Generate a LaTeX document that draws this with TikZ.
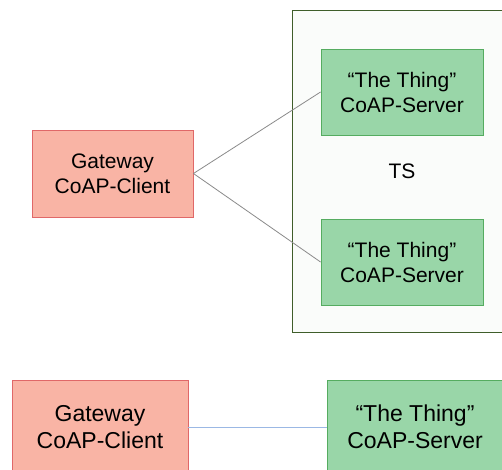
\documentclass[tikz,border=0pt]{standalone}
\usepackage{fontspec}
\setmainfont{Liberation Sans}
\usepackage{xcolor}

\definecolor{clientfill}{HTML}{F9B4A5}
\definecolor{clientdraw}{HTML}{E06868}
\definecolor{serverfill}{HTML}{99D6A8}
\definecolor{serverdraw}{HTML}{55AC60}
\definecolor{groupfill}{HTML}{FAFCFA}
\definecolor{groupdraw}{HTML}{3F5E2A}
\definecolor{linkgray}{HTML}{8A8A8A}
\definecolor{linkblue}{HTML}{9BB8E4}

\begin{document}
\begin{tikzpicture}[x=1pt, y=1pt,
            every node/.style = {align = center, inner sep = 0pt,
                font = \fontsize{21}{25}\selectfont},
            client/.style = {draw = clientdraw, fill = clientfill, line width = 0.9pt},
            server/.style = {draw = serverdraw, fill = serverfill, line width = 0.9pt},
            big/.style = {font = \fontsize{23}{27}\selectfont,
                minimum width = 176pt, minimum height = 94pt},
            group/.style = {draw = groupdraw, fill = groupfill, line width = 0.9pt,
                minimum width = 220pt, minimum height = 322pt},
            link/.style = {draw = linkgray, line width = 0.8pt}]
            \clip (0,0) rectangle (502,-469);

            % upper part: one client, two servers in the TS box
            \node[group] (ts) at (402,-171) {TS};
            \node[client, minimum width = 161pt, minimum height = 87pt] (gw) at (112.5,-173.5)
                {Gateway\\CoAP-Client};
            \node[server, minimum width = 162pt, minimum height = 86pt] (thingA) at (402,-92)
                {``The Thing''\\CoAP-Server};
            \node[server, minimum width = 162pt, minimum height = 86pt] (thingB) at (402,-262)
                {``The Thing''\\CoAP-Server};
            \draw[link] (gw.east) -- (thingA.west);
            \draw[link] (gw.east) -- (thingB.west);

            % lower part: direct link
            \node[client, big] (gwDirect) at (100,-427) {Gateway\\CoAP-Client};
            \node[server, big] (thingDirect) at (415,-427) {``The Thing''\\CoAP-Server};
            \draw[draw = linkblue, line width = 1pt] (gwDirect.east) -- (thingDirect.west);
        \end{tikzpicture}
\end{document}
